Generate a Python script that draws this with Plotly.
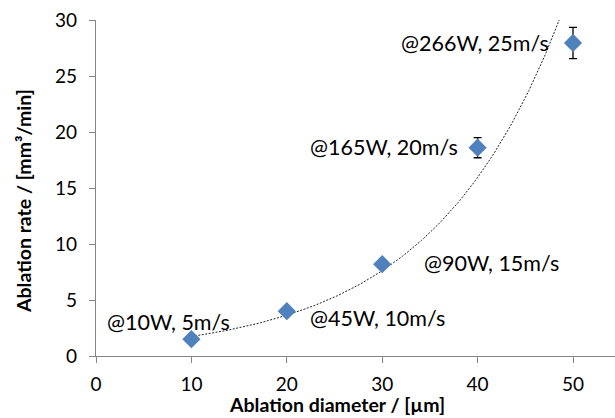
import numpy as np
import plotly.graph_objects as go

# Data
diameters = [10, 20, 30, 40, 50]
rates = [1.5, 4.0, 8.2, 18.6, 27.95]
rate_err = [0.15, 0.2, 0.35, 0.9, 1.4]
labels = ["@10W, 5m/s", "@45W, 10m/s", "@90W, 15m/s", "@165W, 20m/s", "@266W, 25m/s"]
label_x = [0.9, 22.2, 34.2, 22.2, 31.8]
label_y = [3.05, 3.4, 8.3, 18.65, 27.95]
x_ticks = [0, 10, 20, 30, 40, 50]
y_ticks = [0, 5, 10, 15, 20, 25, 30]

# Exponential trendline (least-squares fit on log values, as in the spreadsheet trendline)
b, ln_a = np.polyfit(diameters, np.log(rates), 1)
tx = np.linspace(min(diameters), max(diameters), 200)
ty = np.exp(ln_a) * np.exp(b * tx)

FONT = "Lato, Carlito, Calibri, sans-serif"
AXIS_COLOR = "#868686"

fig = go.Figure()
fig.add_trace(go.Scatter(
    x=tx, y=ty, mode="lines",
    line=dict(color="#222222", width=1, dash="2px,1.5px"),
    hoverinfo="skip", showlegend=False,
))
fig.add_trace(go.Scatter(
    x=diameters, y=rates, mode="markers",
    marker=dict(symbol="diamond", size=14, color="#4F81BD", line=dict(width=0)),
    error_y=dict(type="data", array=rate_err, visible=True, color="black", thickness=1.3, width=4),
    showlegend=False,
))

for t, x, y in zip(labels, label_x, label_y):
    fig.add_annotation(x=x, y=y, text=t, showarrow=False, xanchor="left", yanchor="middle",
                       font=dict(family=FONT, size=21.5, color="black"))

fig.add_annotation(xref="paper", yref="paper", x=(337 - 96) / (615 - 96), y=-(404 - 356) / 336,
                   text="<b>Ablation diameter / [µm]</b>", showarrow=False,
                   xanchor="center", yanchor="middle", font=dict(family=FONT, size=19.5, color="black"))
fig.add_annotation(xref="paper", yref="paper", x=-(96 - 23) / (615 - 96), y=(356 - 201) / 336,
                   text="<b>Ablation rate / [mm³/min]</b>", showarrow=False, textangle=-90,
                   xanchor="center", yanchor="middle", font=dict(family=FONT, size=19.5, color="black"))

fig.update_layout(
    width=615, height=418,
    margin=dict(l=96, r=0, t=20, b=62),
    paper_bgcolor="white", plot_bgcolor="white",
    font=dict(family=FONT, size=19, color="black"),
)
fig.update_xaxes(range=[0, (615 - 96) / 9.54], tickvals=x_ticks, showgrid=False, zeroline=False,
                 showline=True, linecolor=AXIS_COLOR, linewidth=1.3,
                 ticks="outside", ticklen=6, tickcolor=AXIS_COLOR, tickwidth=1.3,
                 tickfont=dict(family=FONT, size=19, color="black"), ticklabelstandoff=5)
fig.update_yaxes(range=[0, 30], tickvals=y_ticks, showgrid=False, zeroline=False,
                 showline=True, linecolor=AXIS_COLOR, linewidth=1.3,
                 ticks="outside", ticklen=6, tickcolor=AXIS_COLOR, tickwidth=1.3,
                 tickfont=dict(family=FONT, size=19, color="black"), ticklabelstandoff=8)

fig.write_html("out.html", config={"displayModeBar": False},
               post_script="document.body.style.margin='0';document.body.style.overflow='hidden';")
